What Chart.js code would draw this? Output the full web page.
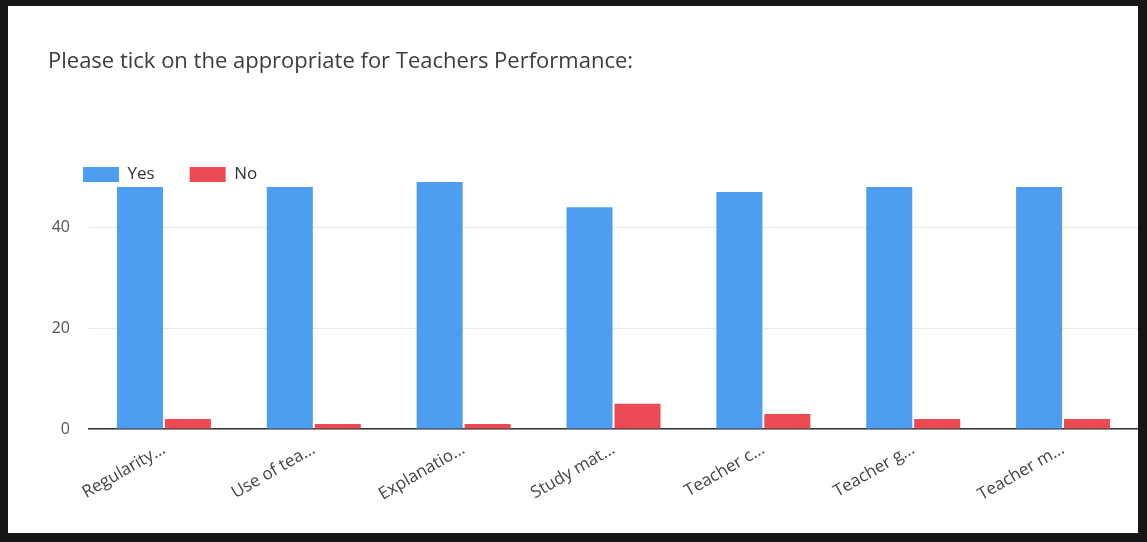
<!DOCTYPE html>
<html>
<head>
<meta charset="utf-8">
<script src="https://cdn.jsdelivr.net/npm/chart.js@4.4.1/dist/chart.umd.min.js"></script>
<style>
  html, body { margin: 0; padding: 0; background: #161616; }
  #box { position: absolute; left: 8px; top: 6px; width: 1130px; height: 527px; background: #fff; }
</style>
</head>
<body>
<div id="box"><canvas id="barChart"></canvas></div>
<script>
// Data
const categories = ["Regularity…", "Use of tea…", "Explanatio…", "Study mat…", "Teacher c…", "Teacher g…", "Teacher m…"];
const yesCounts = [48, 48, 49, 44, 47, 48, 48];
const noCounts = [2, 1, 1, 5, 3, 2, 2];
const yTicks = [0, 20, 40];

const font = "'Open Sans', Arial, sans-serif";

const ctx = document.getElementById("barChart").getContext("2d");
new Chart(ctx, {
  type: "bar",
  data: {
    labels: categories,
    datasets: [
      {
        label: "Yes",
        backgroundColor: "#4d9df0",
        data: yesCounts,
        barPercentage: 0.96,
        categoryPercentage: 0.64,
      },
      {
        label: "No",
        backgroundColor: "#ec4b54",
        data: noCounts,
        barPercentage: 0.96,
        categoryPercentage: 0.64,
      },
    ],
  },
  options: {
    responsive: true,
    maintainAspectRatio: false,
    animation: false,
    layout: { padding: { left: 40, right: 0, top: 0, bottom: 0 } },
    plugins: {
      title: {
        display: true,
        text: "Please tick on the appropriate for Teachers Performance:",
        align: "start",
        color: "#3c3c3c",
        font: { family: font, size: 22, weight: "normal" },
        padding: { top: 43, bottom: 55.6 },
      },
      legend: {
        position: "top",
        align: "start",
        maxHeight: 51,
        labels: {
          boxWidth: 36,
          boxHeight: 15,
          padding: 35,
          color: "#333",
          font: { family: font, size: 17 },
        },
      },
      tooltip: { enabled: false },
    },
    scales: {
      x: {
        grid: { display: false },
        border: { color: "#333", width: 1.5 },
        ticks: {
          color: "#444",
          font: { family: font, size: 17 },
          minRotation: 30,
          maxRotation: 30,
          padding: 2,
        },
        afterFit: (scale) => { scale.height = 104; },
      },
      y: {
        min: 0,
        max: 49,
        border: { display: false },
        grid: { color: "#e8e8e8", drawTicks: false },
        ticks: {
          color: "#555",
          font: { family: font, size: 16 },
          padding: 19,
        },
        afterBuildTicks: (axis) => { axis.ticks = yTicks.map((v) => ({ value: v })); },
        afterFit: (scale) => { scale.width = 41; },
      },
    },
  },
});
</script>
</body>
</html>
